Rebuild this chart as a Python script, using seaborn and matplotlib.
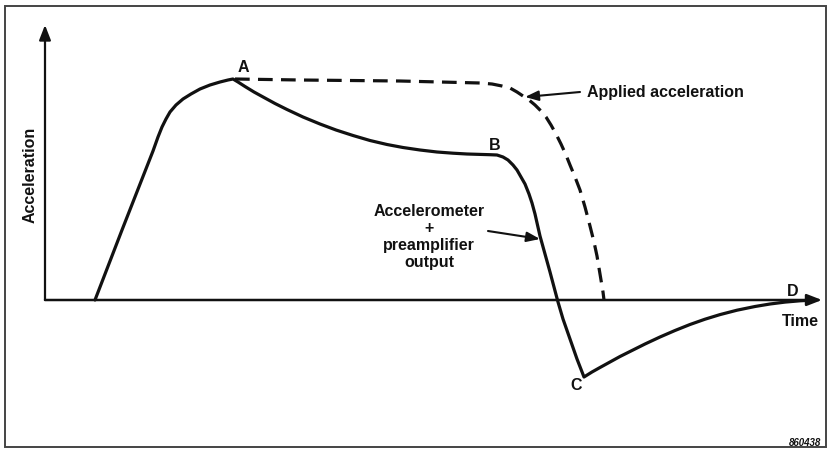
import matplotlib
matplotlib.use("Agg")
import matplotlib.pyplot as plt
import seaborn as sns
from matplotlib.patches import Rectangle

# ---- data (arbitrary units: time vs acceleration) ----
output_time = [50, 77, 108, 113, 117, 121, 125, 131, 138, 146, 155, 165, 175, 183, 188,
               193, 200, 209, 219, 230, 242, 258, 275, 291, 308, 325, 342, 358, 375, 392,
               408, 422, 435, 445, 452, 458, 463, 468, 472, 476, 480, 484, 487, 490, 495,
               500, 505, 509, 513, 518, 525, 532, 539,
               547, 555, 565, 575, 585, 600, 615, 630, 645, 660, 675, 692, 710, 725, 740, 755, 770]
output_accel = [0, 70, 149, 163, 173, 181, 188, 195, 201, 206, 211, 215, 218, 220, 221,
                218, 213.5, 208, 202.5, 196.5, 190.5, 183, 176, 170, 164.5, 159.5, 155.5, 152.5, 150, 148,
                146.8, 146, 145.6, 145.3, 145, 143, 140, 135, 130, 123, 116, 106, 97, 86, 64,
                46, 28, 13, -2, -19, -39, -59, -77,
                -72, -67.5, -62, -56.5, -51.5, -44, -37, -30.5, -24.5, -19.2, -14.6, -10.2, -6.5, -4, -2.1, -0.8, 0]

applied_time = [190, 255, 355, 435, 447, 457, 465, 472, 478, 484, 490, 496, 501, 506, 511,
                516, 521, 525, 530, 535, 540, 545, 549, 552, 555, 558, 559]
applied_accel = [221, 220, 219, 217, 216, 214, 212, 208, 204, 200, 195, 189, 183, 175, 166,
                 156, 145, 135, 123, 110, 93, 74, 58, 44, 26, 8, 0]

point_labels = ["A", "B", "C", "D"]
point_pos = [(198, 233), (450, 155), (531, -85), (748, 9)]

x_label = "Time"
y_label = "Acceleration"
applied_label = "Applied acceleration"
output_label = "Accelerometer\n+\npreamplifier\noutput"
figure_id = "860438"

# ---- style ----
sns.set_style("white")
plt.rcParams["font.family"] = ["Liberation Sans", "DejaVu Sans"]
INK = "#111111"

fig = plt.figure(figsize=(8.29, 4.52), dpi=100)
ax = fig.add_axes([0, 0, 1, 1])
ax.set_xlim(-45, 784)
ax.set_ylim(-151, 301)
ax.axis("off")

# frame around the figure
fig.patches.append(Rectangle((5 / 829, 4 / 452), 821 / 829, 441 / 452, transform=fig.transFigure,
                             fill=False, edgecolor="#444444", lw=1.4))

# axes with arrows
ax.annotate("", xy=(777, 0), xytext=(0, 0),
            arrowprops=dict(arrowstyle="-|>,head_length=0.9,head_width=0.35", lw=1.8, color=INK,
                            shrinkA=0, shrinkB=0))
ax.annotate("", xy=(0, 275), xytext=(0, 0),
            arrowprops=dict(arrowstyle="-|>,head_length=0.9,head_width=0.35", lw=1.6, color=INK,
                            shrinkA=0, shrinkB=0))

# curves
sns.lineplot(x=output_time, y=output_accel, ax=ax, color=INK, lw=2.3, sort=False, estimator=None,
             solid_capstyle="round", solid_joinstyle="round")
sns.lineplot(x=applied_time, y=applied_accel, ax=ax, color=INK, lw=2.3, sort=False, estimator=None,
             linestyle=(0, (4.6, 2.6)))

txt = dict(color=INK, fontsize=11.5, fontweight="bold")
for lab, (tx, ty) in zip(point_labels, point_pos):
    ax.text(tx, ty, lab, ha="center", va="center", **txt)

ax.text(755, -21, x_label, ha="center", va="center", **txt)
ax.text(-15, 126, y_label, ha="center", va="center", rotation=90, **txt)

ax.text(542, 208, applied_label, ha="left", va="center", **txt)
ax.annotate("", xy=(480, 203), xytext=(535, 208),
            arrowprops=dict(arrowstyle="-|>,head_length=0.8,head_width=0.3", lw=1.5, color=INK,
                            shrinkA=0, shrinkB=0))

ax.text(384, 64, output_label, ha="center", va="center", linespacing=1.18, **txt)
ax.annotate("", xy=(495, 61), xytext=(443, 69),
            arrowprops=dict(arrowstyle="-|>,head_length=0.8,head_width=0.3", lw=1.5, color=INK,
                            shrinkA=0, shrinkB=0))

ax.text(760, -142, figure_id, ha="center", va="center", fontsize=7, fontstyle="italic",
        fontweight="bold", color=INK)

fig.savefig("out.png", dpi=100)
